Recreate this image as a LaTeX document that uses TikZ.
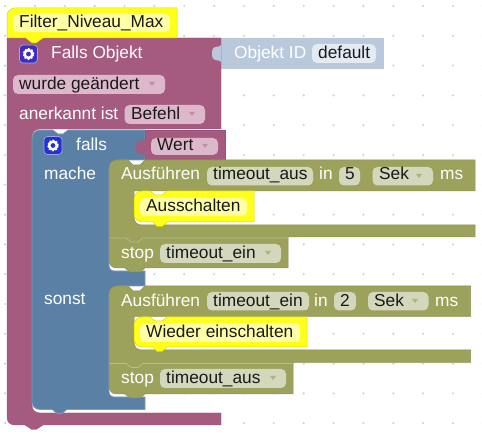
\documentclass[tikz,border=0pt]{standalone}
\usepackage{fontspec}
\setmainfont{Liberation Sans}
\definecolor{plum}{HTML}{A55B80}
\definecolor{plumf}{HTML}{DDB8CB}
\definecolor{plumd}{HTML}{96537A}
\definecolor{steel}{HTML}{5B80A5}
\definecolor{steell}{HTML}{7F9DBB}
\definecolor{oliv}{HTML}{9CA25B}
\definecolor{olivd}{HTML}{8B9150}
\definecolor{olivf}{HTML}{D3D7BC}
\definecolor{pale}{HTML}{B9C9DB}
\definecolor{palef}{HTML}{E4EAF1}
\definecolor{yel}{HTML}{FFFF1A}
\definecolor{yeld}{HTML}{DDD800}
\definecolor{yelf}{HTML}{FFFFA6}
\definecolor{indigoA}{HTML}{3F2DBE}
\definecolor{indigoB}{HTML}{2433CF}
\tikzset{
  lbl/.style={anchor=base west,inner sep=0pt,font=\fontsize{17.3}{20}\selectfont,text=white},
  val/.style={lbl,text=black!90},
  fieldbox/.style={rounded corners=5pt},
  griddot/.style={fill=black!18},
  plumblock/.style={fill=plum,draw=plumd,line width=.4pt},
  steelblock/.style={fill=steel,draw=steell,line width=.6pt},
  olivblock/.style={fill=oliv,draw=olivd,line width=.5pt},
  yelblock/.style={fill=yel,draw=yeld,line width=.5pt},
  seam/.style={draw=oliv!70!white,line width=.7pt},
  caret/.style={fill=black!35},
}
\newcommand{\caretat}[3]{\fill[caret,fill=#3] (#1-3,#2-2) -- (#1+3,#2-2) -- (#1,#2+2) -- cycle;}
\newcommand{\gearat}[3]{%
  \fill[#3,draw=white!55!#3,line width=.7pt,rounded corners=3.5pt] (#1-9,#2-9) rectangle (#1+9,#2+9);
  \draw[white,line width=1.7pt,dash pattern=on 1.7pt off 1.45pt] (#1,#2) circle (5pt);
  \fill[white] (#1,#2) circle (5.2pt);
  \fill[#3] (#1,#2) circle (2.4pt);}
\begin{document}
\begin{tikzpicture}[x=1pt,y=-1pt]
\useasboundingbox (0,0) rectangle (482,435);
\fill[white] (0,0) rectangle (482,435);
% workspace dots
\foreach \i in {0,...,16}{\foreach \j in {0,...,14}{
  \fill[griddot] (5+29.87*\i,6+29.8*\j) circle (1.2pt);}}
% Objekt ID shadow block
\fill[pale] (221,38) rectangle (383.5,68.7);
% outer plum block
\path[plumblock] (7,38) -- (221,38) -- (221,129) -- (40,129)
  .. controls (35,129) and (32,132) .. (32,137) -- (32,405)
  .. controls (32,410) and (35,413) .. (40,413) -- (221,413) -- (221,425)
  -- (43,425) -- (36,429.5) -- (32,429.5) -- (25,425) -- (15,425)
  .. controls (10,425) and (7,422) .. (7,417) -- cycle;
\fill[pale] (221,45) .. controls (219,49) and (212,43) .. (212,53.5)
  .. controls (212,64) and (219,58) .. (221,62) -- cycle;
% steel "falls" block
\path[steelblock] (32,138) .. controls (32,133) and (36,130) .. (40,130) -- (53,130)
  -- (58,134) -- (63,134) -- (68,130) -- (145,130) -- (145,160) -- (117,160)
  -- (109,168) -- (109,265) .. controls (109,269) and (111,271) .. (115,271)
  -- (145,271) -- (145,286) -- (117,286) -- (109,294) -- (109,391)
  .. controls (109,395) and (111,397) .. (115,397) -- (145,397) -- (145,409.5)
  -- (67,409.5) -- (62,413.5) -- (57,413.5) -- (52,409.5) -- (40,409.5)
  .. controls (35,409.5) and (32,406) .. (32,402) -- cycle;
% Wert value block
\path[plumblock] (145,130) rectangle (225,161);
\fill[plum] (146,139) -- (145,139) .. controls (143,143) and (136,137) .. (136,147.5)
  .. controls (136,158) and (143,152) .. (145,156) -- (146,156) -- cycle;
% olive block 1 with stop
\path[olivblock] (109,168) .. controls (109,163) and (112,160) .. (117,160) -- (128,160)
  -- (133,165) -- (140,165) -- (145,160) -- (475,160) -- (475,191) -- (134,191)
  -- (134,217) .. controls (134,222) and (137,225) .. (142,225) -- (475,225)
  -- (475,237) -- (288,237) -- (288,268) -- (145,268) -- (140,272) -- (130,272)
  -- (125,268) -- (117,268) .. controls (112,268) and (109,265) .. (109,260) -- cycle;
\draw[seam] (109.5,238) -- (126,238) -- (131,242) -- (138,242) -- (143,238) -- (287.5,238);
% olive block 2 with stop
\path[olivblock] (109,294) .. controls (109,289) and (112,286) .. (117,286) -- (128,286)
  -- (133,291) -- (140,291) -- (145,286) -- (470.5,286) -- (470.5,316.5) -- (134,316.5)
  -- (134,342) .. controls (134,347) and (137,350) .. (142,350) -- (470.5,350)
  -- (470.5,362.5) -- (293,362.5) -- (293,394) -- (145,394) -- (140,398) -- (130,398)
  -- (125,394) -- (117,394) .. controls (112,394) and (109,391) .. (109,386) -- cycle;
\draw[seam] (109.5,363.5) -- (126,363.5) -- (131,367.5) -- (138,367.5) -- (143,363.5) -- (292.5,363.5);
% yellow comment blocks
\path[yelblock] (7,16) .. controls (7,11) and (11,8) .. (15,8) -- (177,8) -- (177,38)
  -- (43,38) -- (36,43) -- (32,43) -- (26,38) -- (7,38) -- cycle;
\path[yelblock] (134,199) .. controls (134,194) and (138,191) .. (142,191) -- (150,191)
  -- (155,195) -- (162,195) -- (167,191) -- (254,191) -- (254,222) -- (167,222)
  -- (162,226.5) -- (157,226.5) -- (153,222) -- (142,222)
  .. controls (138,222) and (134,219) .. (134,214) -- cycle;
\path[yelblock] (134,325) .. controls (134,320) and (138,317) .. (142,317) -- (150,317)
  -- (155,321) -- (162,321) -- (167,317) -- (307,317) -- (307,347) -- (167,347)
  -- (162,351.5) -- (157,351.5) -- (153,347) -- (142,347)
  .. controls (138,347) and (134,344) .. (134,339) -- cycle;
% fields
\fill[fieldbox,yelf] (13,14) rectangle (170,32);
\fill[fieldbox,yelf] (140,198) rectangle (247,216);
\fill[fieldbox,yelf] (140,323) rectangle (300,342);
\fill[fieldbox,palef] (312,44) rectangle (376,63);
\fill[fieldbox,plumf] (13,75) rectangle (165,94);
\fill[fieldbox,plumf] (124.5,105) rectangle (205,124);
\fill[fieldbox,plumf] (151,138) rectangle (218,155);
\fill[fieldbox,olivf] (207,167) rectangle (313,185.5);
\fill[fieldbox,olivf] (339,167) rectangle (360,185.5);
\fill[fieldbox,olivf] (372.5,167) rectangle (433,185.5);
\fill[fieldbox,olivf] (160,244) rectangle (281,263);
\fill[fieldbox,olivf] (207,292) rectangle (309,310.5);
\fill[fieldbox,olivf] (334,292) rectangle (356,310.5);
\fill[fieldbox,olivf] (368,292) rectangle (428.5,310.5);
\fill[fieldbox,olivf] (160,369) rectangle (286,388);
% carets
\caretat{152}{84}{plum!70!white}
\caretat{192}{114}{plum!70!white}
\caretat{205}{146}{plum!70!white}
\caretat{419}{176}{oliv!80!white}
\caretat{268}{253}{oliv!80!white}
\caretat{415}{301}{oliv!80!white}
\caretat{273}{378}{oliv!80!white}
% gears
\gearat{28.5}{54}{indigoA}
\gearat{53}{145.5}{indigoB}
% text
\node[val] (t1) at (19,28) {Filter\_Niveau\_Max};
\node[lbl] (t2) at (51,59) {Falls Objekt};
\node[lbl] (t3) at (234,59) {Objekt ID};
\node[val] (t4) at (318,59) {default};
\node[val] (t5) at (19,90) {wurde geändert};
\node[lbl] (t6) at (19,120) {anerkannt ist};
\node[val] (t7) at (131,120) {Befehl};
\node[lbl] (t8) at (76,151) {falls};
\node[val] (t9) at (157,151) {Wert};
\node[lbl] (t10) at (44,180) {mache};
\node[lbl] (t11) at (44,305) {sonst};
\node[lbl] (t12) at (121,180) {Ausführen};
\node[val] (t13) at (213,180) {timeout\_aus};
\node[lbl] (t14) at (319,180) {in};
\node[val] (t15) at (345,180) {5};
\node[val] (t16) at (379,180) {Sek};
\node[lbl] (t17) at (440,180) {ms};
\node[val] (t18) at (146,212) {Ausschalten};
\node[lbl] (t19) at (121,259) {stop};
\node[val] (t20) at (166,259) {timeout\_ein};
\node[lbl] (t21) at (121,306.5) {Ausführen};
\node[val] (t22) at (213,306.5) {timeout\_ein};
\node[lbl] (t23) at (314,306.5) {in};
\node[val] (t24) at (340,306.5) {2};
\node[val] (t25) at (374,306.5) {Sek};
\node[lbl] (t26) at (435,306.5) {ms};
\node[val] (t27) at (146,338) {Wieder einschalten};
\node[lbl] (t28) at (121,384) {stop};
\node[val] (t29) at (166,384) {timeout\_aus};
\end{tikzpicture}
\end{document}
